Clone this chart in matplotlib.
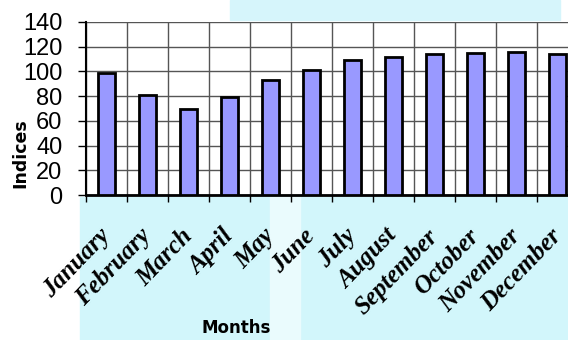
import numpy as np
import matplotlib.pyplot as plt
from matplotlib.patches import Rectangle

months = ["January", "February", "March", "April", "May", "June",
          "July", "August", "September", "October", "November", "December"]
indices = [99, 81, 70, 79, 93, 101, 109.5, 112, 114.5, 115, 115.5, 114.5]
yticks = [0, 20, 40, 60, 80, 100, 120, 140]

W, H = 568, 340
fig = plt.figure(figsize=(W / 100, H / 100), dpi=100)
fig.patch.set_facecolor("white")

# light cyan background patches behind the chart (pixel coords -> figure coords)
def fig_rect(x0, y0, x1, y1, color):
    fig.patches.append(Rectangle((x0 / W, 1 - y1 / H), (x1 - x0) / W, (y1 - y0) / H,
                                 transform=fig.transFigure, color=color, zorder=-10))

fig_rect(80, 197, 568, 340, "#d2f6fb")
fig_rect(270, 197, 300, 340, "#eafbfd")
fig_rect(230, 0, 560, 20, "#d6f5fb")

ax = fig.add_axes([86 / W, 1 - 195 / H, 492 / W, 173 / H])
ax.set_zorder(1)
ax.set_facecolor("white")

x = np.arange(len(months))
ax.bar(x, indices, width=0.42, color="#9999ff", edgecolor="black", linewidth=2, zorder=3)

ax.set_xlim(-0.5, len(months) - 0.5)
ax.set_ylim(0, 140)
ax.set_yticks(yticks)
ax.set_yticklabels([str(v) for v in yticks], fontsize=17, family="Liberation Sans")
ax.tick_params(axis="y", direction="out", length=6, width=1, pad=11)

ax.set_xticks(x)
ax.set_xticklabels(months, rotation=46, ha="right", va="center", rotation_mode="anchor",
                   fontsize=18, family="Liberation Serif", fontweight="bold", fontstyle="italic")
ax.tick_params(axis="x", which="major", length=0, pad=27)
ax.set_xticks(np.arange(len(months) + 1) - 0.5, minor=True)
ax.tick_params(axis="x", which="minor", direction="out", length=5, width=1)

ax.grid(True, which="minor", axis="x", color="#555555", linewidth=1, zorder=0)
ax.grid(True, which="major", axis="y", color="#555555", linewidth=1, zorder=0)
ax.set_axisbelow(True)

for side in ["top", "right"]:
    ax.spines[side].set_visible(False)
ax.spines["left"].set_linewidth(1.5)
ax.spines["bottom"].set_linewidth(2)

fig.text(20 / W, 1 - 153 / H, "Indices", rotation=90, ha="center", va="center",
         fontsize=12.5, fontweight="bold", family="DejaVu Sans")
fig.text(236 / W, 1 - 328 / H, "Months", ha="center", va="center",
         fontsize=12, fontweight="bold", family="DejaVu Sans")

fig.savefig("out.png", dpi=100)
